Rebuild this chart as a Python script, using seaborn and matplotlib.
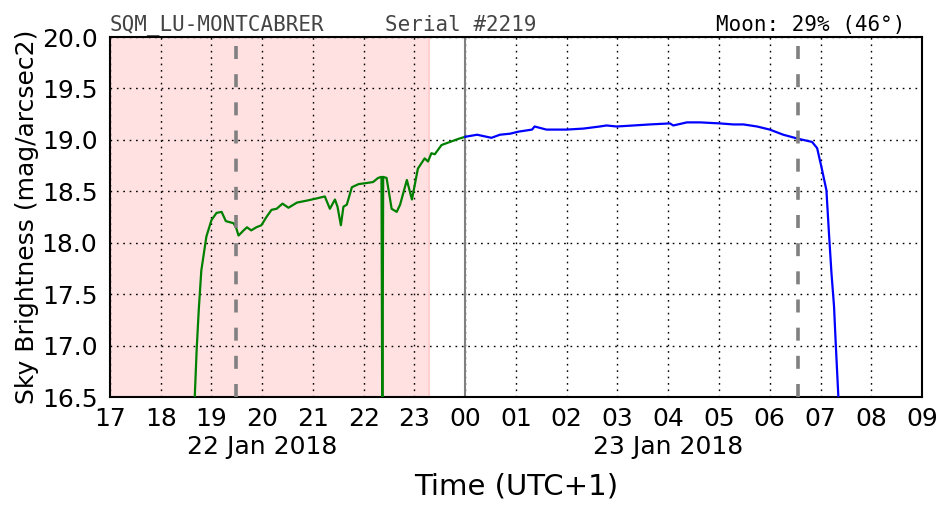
import pandas as pd
import matplotlib
matplotlib.use("Agg")
import matplotlib.pyplot as plt
import matplotlib.dates as mdates
import matplotlib.transforms as mtransforms
from matplotlib.ticker import FuncFormatter
import seaborn as sns

# Sky brightness readings (UTC+1), 22-23 Jan 2018
times_evening = ["2018-01-22 18:40", "2018-01-22 18:42:30", "2018-01-22 18:45", "2018-01-22 18:48",
                 "2018-01-22 18:54", "2018-01-22 19:00", "2018-01-22 19:06", "2018-01-22 19:12",
                 "2018-01-22 19:17", "2018-01-22 19:26", "2018-01-22 19:29", "2018-01-22 19:32",
                 "2018-01-22 19:38", "2018-01-22 19:42", "2018-01-22 19:47", "2018-01-22 19:53",
                 "2018-01-22 19:59", "2018-01-22 20:05", "2018-01-22 20:11", "2018-01-22 20:17",
                 "2018-01-22 20:24", "2018-01-22 20:31", "2018-01-22 20:41", "2018-01-22 20:53",
                 "2018-01-22 21:04", "2018-01-22 21:14", "2018-01-22 21:20", "2018-01-22 21:26",
                 "2018-01-22 21:29", "2018-01-22 21:33", "2018-01-22 21:36", "2018-01-22 21:40",
                 "2018-01-22 21:46", "2018-01-22 21:54", "2018-01-22 22:03", "2018-01-22 22:11",
                 "2018-01-22 22:17", "2018-01-22 22:21", "2018-01-22 22:22", "2018-01-22 22:23",
                 "2018-01-22 22:27", "2018-01-22 22:33", "2018-01-22 22:39", "2018-01-22 22:43",
                 "2018-01-22 22:51", "2018-01-22 22:57", "2018-01-22 23:04", "2018-01-22 23:12",
                 "2018-01-22 23:16", "2018-01-22 23:20", "2018-01-22 23:24", "2018-01-22 23:32",
                 "2018-01-22 23:42", "2018-01-22 23:52", "2018-01-23 00:00"]
mag_evening = [16.45, 16.96, 17.35, 17.73, 18.06, 18.22, 18.29, 18.30,
               18.21, 18.19, 18.15, 18.07, 18.12, 18.15, 18.12, 18.15,
               18.17, 18.25, 18.32, 18.33, 18.38, 18.34, 18.39, 18.41,
               18.43, 18.45, 18.33, 18.42, 18.35, 18.17, 18.35, 18.37,
               18.54, 18.57, 18.58, 18.59, 18.63, 18.64, 16.0, 18.64,
               18.63, 18.33, 18.30, 18.37, 18.61, 18.42, 18.72, 18.82,
               18.79, 18.87, 18.86, 18.95, 18.98, 19.01, 19.03]

times_night = ["2018-01-23 00:00", "2018-01-23 00:14", "2018-01-23 00:31", "2018-01-23 00:41",
               "2018-01-23 00:53", "2018-01-23 01:03", "2018-01-23 01:19", "2018-01-23 01:22",
               "2018-01-23 01:36", "2018-01-23 02:00", "2018-01-23 02:20", "2018-01-23 02:39",
               "2018-01-23 02:47", "2018-01-23 02:59", "2018-01-23 03:19", "2018-01-23 03:38",
               "2018-01-23 04:02", "2018-01-23 04:06", "2018-01-23 04:22", "2018-01-23 04:38",
               "2018-01-23 05:01", "2018-01-23 05:17", "2018-01-23 05:29", "2018-01-23 05:45",
               "2018-01-23 06:00", "2018-01-23 06:16", "2018-01-23 06:34", "2018-01-23 06:50",
               "2018-01-23 06:56", "2018-01-23 07:01", "2018-01-23 07:07", "2018-01-23 07:10",
               "2018-01-23 07:13", "2018-01-23 07:16", "2018-01-23 07:18", "2018-01-23 07:21",
               "2018-01-23 07:22"]
mag_night = [19.03, 19.05, 19.02, 19.05, 19.06, 19.08, 19.10, 19.13,
             19.10, 19.10, 19.11, 19.13, 19.14, 19.13, 19.14, 19.15,
             19.16, 19.14, 19.17, 19.17, 19.16, 19.15, 19.15, 19.13,
             19.10, 19.05, 19.01, 18.98, 18.92, 18.74, 18.51, 18.09,
             17.70, 17.38, 17.02, 16.52, 16.35]

twilight_times = ["2018-01-22 19:29", "2018-01-23 06:33"]
moon_up = ["2018-01-22 17:00", "2018-01-22 23:17"]
midnight = "2018-01-23 00:00"
x_range = ["2018-01-22 17:00", "2018-01-23 09:00"]
date_times = ["2018-01-22 20:00", "2018-01-23 04:00"]
date_texts = ["22 Jan 2018", "23 Jan 2018"]

df = pd.concat([
    pd.DataFrame({"time": pd.to_datetime(times_evening, format="ISO8601"),
                  "mag": mag_evening, "part": "evening"}),
    pd.DataFrame({"time": pd.to_datetime(times_night, format="ISO8601"),
                  "mag": mag_night, "part": "night"}),
], ignore_index=True)

plt.rcParams["font.family"] = "DejaVu Sans"

fig = plt.figure(figsize=(9.52, 5.12), dpi=100)
ax = fig.add_axes([0.1155, 0.2246, 0.853, 0.7031])

ax.axvspan(pd.Timestamp(moon_up[0]), pd.Timestamp(moon_up[1]),
           facecolor="#ffe1e1", edgecolor="#ffcfcf", lw=1.5, zorder=0)

sns.lineplot(data=df, x="time", y="mag", hue="part",
             palette={"evening": "green", "night": "blue"},
             estimator=None, sort=False, legend=False, lw=1.6, ax=ax, zorder=3)

for t in twilight_times:
    ax.axvline(pd.Timestamp(t), color="grey", lw=2.6, ls=(0, (3.6, 4.2)), zorder=4)
ax.axvline(pd.Timestamp(midnight), color="grey", lw=1.5, zorder=2)

ax.set_xlim(pd.Timestamp(x_range[0]), pd.Timestamp(x_range[1]))
ax.set_ylim(16.5, 20.0)
ax.set_yticks([16.5 + 0.5 * i for i in range(8)])
ax.yaxis.set_major_formatter(FuncFormatter(lambda v, p: f"{v:.1f}"))

ax.xaxis.set_major_locator(mdates.HourLocator())
ax.xaxis.set_major_formatter(mdates.DateFormatter("%H"))

# date line under the hour labels
trans = mtransforms.blended_transform_factory(ax.transData, ax.transAxes)
for t, s in zip(date_times, date_texts):
    ax.text(pd.Timestamp(t), -0.138, s, transform=trans, ha="center", va="center", fontsize=18)

ax.grid(True, color="black", ls=(0, (1.2, 3.4)), lw=1)
ax.tick_params(labelsize=18, length=0)
ax.tick_params(axis="x", pad=7)
ax.tick_params(axis="y", pad=9)
for s in ax.spines.values():
    s.set_linewidth(1.5)

ax.set_xlabel("Time (UTC+1)", fontsize=21, labelpad=30)
ax.set_ylabel("Sky Brightness (mag/arcsec2)", fontsize=18, labelpad=2)

ax.text(0.0, 1.006, "SQM_LU-MONTCABRER", transform=ax.transAxes, family="DejaVu Sans Mono",
        fontsize=15, color="#444444", ha="left", va="bottom", zorder=10)
ax.text(0.339, 1.006, "Serial #2219", transform=ax.transAxes, family="DejaVu Sans Mono",
        fontsize=15, color="#444444", ha="left", va="bottom", zorder=10)
ax.text(0.979, 1.006, "Moon: 29% (46°)", transform=ax.transAxes, family="DejaVu Sans Mono",
        fontsize=15, color="black", ha="right", va="bottom", zorder=10)

fig.savefig("out.png", dpi=100, facecolor="white")
